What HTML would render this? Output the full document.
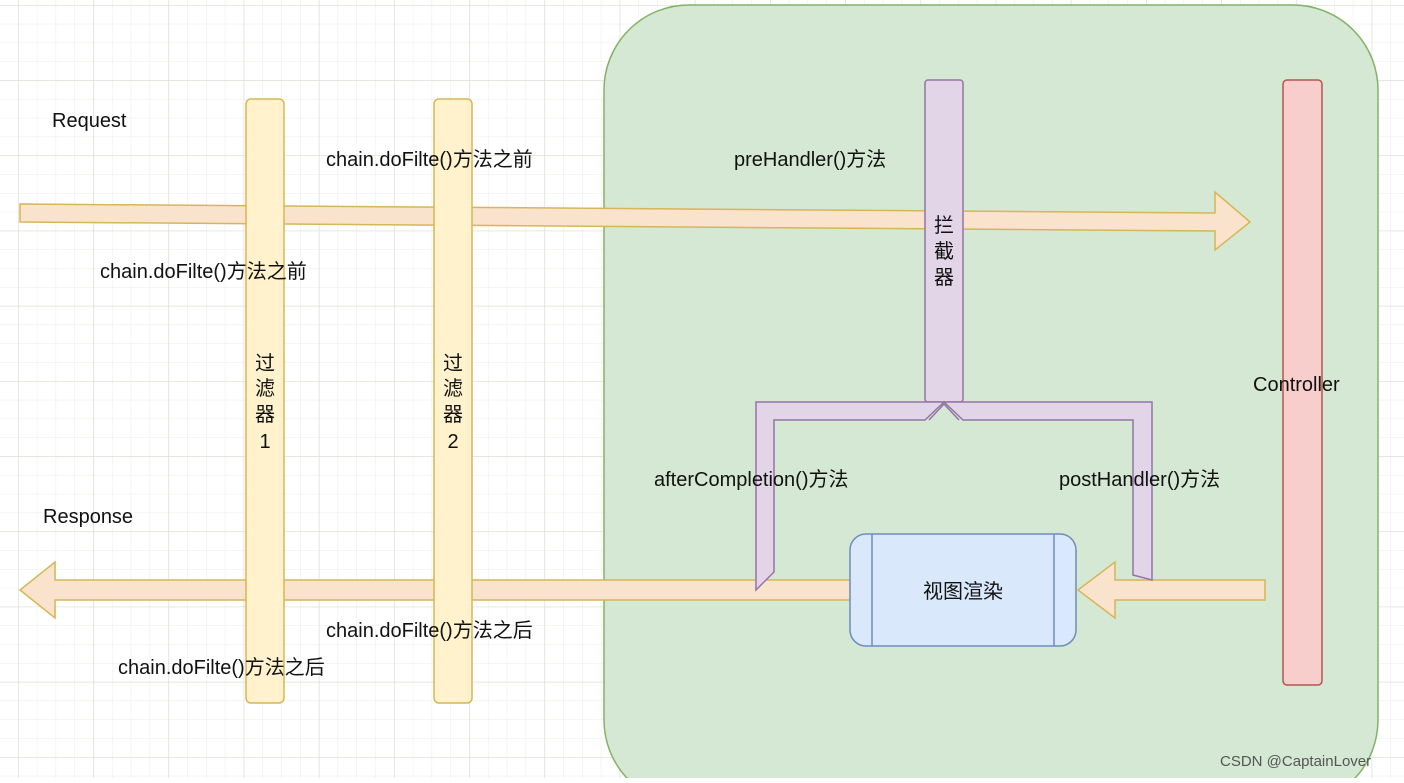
<!DOCTYPE html>
<html><head><meta charset="utf-8"><style>
body{margin:0;width:1404px;height:778px;overflow:hidden;background:#fff;font-family:"Liberation Sans","Noto Sans CJK SC",sans-serif;}
svg text{font-family:"Liberation Sans","Noto Sans CJK SC",sans-serif;font-size:20px;fill:#111;}
</style></head><body>
<svg width="1404" height="778" xmlns="http://www.w3.org/2000/svg">
<defs>
<pattern id="minor" width="18.8" height="18.8" patternUnits="userSpaceOnUse" x="18" y="5">
<path d="M0 0H18.8M0 0V18.8" stroke="#ebebe6" stroke-width="1" fill="none"/></pattern>
<pattern id="major" width="75.2" height="75.2" patternUnits="userSpaceOnUse" x="18" y="5">
<path d="M0 0H75.2M0 0V75.2" stroke="#dcdcd4" stroke-width="1.3" fill="none"/></pattern>
</defs>
<rect width="1404" height="778" fill="url(#minor)"/>
<rect width="1404" height="778" fill="url(#major)"/>
<rect x="604" y="5" width="774" height="800" rx="85" fill="#d5e8d4" stroke="#82b366" stroke-width="1.5"/>
<!-- request arrow -->
<polygon points="20,204 1215,213 1215,192 1250,222 1215,250 1215,231 20,222" fill="#fae3cd" stroke="#d6b656" stroke-width="1.5"/>
<!-- response arrow -->
<polygon points="850,580 55,580 55,562 20,590 55,618 55,600 850,600" fill="#fae3cd" stroke="#d6b656" stroke-width="1.5"/>
<polygon points="1265,580 1115,580 1115,562 1078,590 1115,618 1115,600 1265,600" fill="#fae3cd" stroke="#d6b656" stroke-width="1.5"/>
<!-- filters -->
<rect x="246" y="99" width="38" height="604" rx="5" fill="#fff2cc" stroke="#d6b656" stroke-width="1.5"/>
<rect x="434" y="99" width="38" height="604" rx="5" fill="#fff2cc" stroke="#d6b656" stroke-width="1.5"/>
<!-- interceptor -->
<rect x="925" y="80" width="38" height="322" rx="3" fill="#e1d5e7" stroke="#9673a6" stroke-width="1.5"/>
<polygon points="756,402 1152,402 1152,580 1133,575 1133,420 963,420 944,402 925,420 774,420 774,572 756,590" fill="#e1d5e7" stroke="#9673a6" stroke-width="1.5"/>
<polyline points="929,420 944,404 959,420" fill="none" stroke="#9673a6" stroke-width="1.5"/>
<!-- controller -->
<rect x="1283" y="80" width="39" height="605" rx="4" fill="#f8cecc" stroke="#b85450" stroke-width="1.5"/>
<!-- view render -->
<rect x="850" y="534" width="226" height="112" rx="16" fill="#dae8fc" stroke="#6c8ebf" stroke-width="1.5"/>
<line x1="872" y1="534" x2="872" y2="646" stroke="#6c8ebf" stroke-width="1.5"/>
<line x1="1054" y1="534" x2="1054" y2="646" stroke="#6c8ebf" stroke-width="1.5"/>
<text x="963" y="598" text-anchor="middle">视图渲染</text>
<text x="52" y="127">Request</text>
<text x="43" y="523">Response</text>
<text x="326" y="166">chain.doFilte()方法之前</text>
<text x="100" y="278">chain.doFilte()方法之前</text>
<text x="326" y="637">chain.doFilte()方法之后</text>
<text x="118" y="674">chain.doFilte()方法之后</text>
<text x="734" y="166">preHandler()方法</text>
<text x="654" y="486">afterCompletion()方法</text>
<text x="1059" y="486">postHandler()方法</text>
<text x="1253" y="391">Controller</text>
<text x="265" y="370" text-anchor="middle">过</text>
<text x="265" y="395" text-anchor="middle">滤</text>
<text x="265" y="421" text-anchor="middle">器</text>
<text x="265" y="448" text-anchor="middle">1</text>
<text x="453" y="370" text-anchor="middle">过</text>
<text x="453" y="395" text-anchor="middle">滤</text>
<text x="453" y="421" text-anchor="middle">器</text>
<text x="453" y="448" text-anchor="middle">2</text>
<text x="944" y="232" text-anchor="middle">拦</text>
<text x="944" y="258" text-anchor="middle">截</text>
<text x="944" y="284" text-anchor="middle">器</text>
<text x="1220" y="766" style="font-size:15px;fill:#555">CSDN @CaptainLover</text>
</svg>
</body></html>
